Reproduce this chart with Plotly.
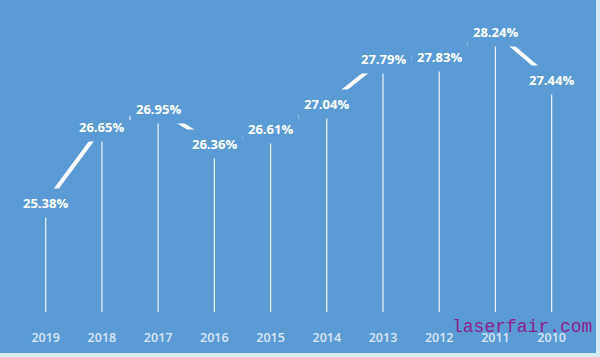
import plotly.graph_objects as go

years = ["2019", "2018", "2017", "2016", "2015", "2014", "2013", "2012", "2011", "2010"]
rates = [25.38, 26.65, 26.95, 26.36, 26.61, 27.04, 27.79, 27.83, 28.24, 27.44]
labels = [f"{v:.2f}%" for v in rates]
watermark = "laserfair.com"

BG = "#5B9BD5"
xs = list(range(len(years)))
y_top, y_bottom = 28.775, 23.557

fig = go.Figure()

# drop lines from each point to the axis
dx, dy = [], []
for i, v in zip(xs, rates):
    dx += [i, i, None]
    dy += [v, y_bottom, None]
fig.add_trace(go.Scatter(x=dx, y=dy, mode="lines",
                         line=dict(color="rgba(255,255,255,0.9)", width=1.2),
                         hoverinfo="skip", showlegend=False))

# main line
fig.add_trace(go.Scatter(x=xs, y=rates, mode="lines",
                         line=dict(color="white", width=4),
                         showlegend=False))

# data labels with background boxes that hide the line beneath them
for i, v, t in zip(xs, rates, labels):
    fig.add_annotation(x=i, y=v, text=t, showarrow=False,
                       font=dict(family="Open Sans", size=13, color="white", weight="bold"),
                       bgcolor=BG, borderpad=5, xanchor="center", yanchor="middle")

fig.add_annotation(xref="paper", yref="paper", x=594/600, y=-0.01, text=watermark,
                   showarrow=False, xanchor="right", yanchor="top",
                   font=dict(family="Liberation Mono", size=18, color="#8B1E8E"))

# light border strips at bottom and right edge
fig.add_shape(type="rect", xref="paper", yref="paper", x0=0, x1=1, y0=-0.1315, y1=-0.15,
              fillcolor="#D3EBF2", line=dict(width=0), layer="above")
fig.add_shape(type="rect", xref="paper", yref="paper", x0=596/600, x1=1, y0=-0.15, y1=1,
              fillcolor="#D3EBF2", line=dict(width=0), layer="above")

fig.update_layout(
    width=600, height=357,
    margin=dict(l=0, r=0, t=0, b=45),
    paper_bgcolor=BG, plot_bgcolor=BG,
    xaxis=dict(range=[-0.813, 9.86], tickmode="array", tickvals=xs, ticktext=years,
               showgrid=False, zeroline=False, showline=False,
               ticks="outside", ticklen=14, tickcolor="rgba(0,0,0,0)",
               tickfont=dict(family="Open Sans", size=12.5, color="#DCE8F4", weight=600)),
    yaxis=dict(range=[y_bottom, y_top], visible=False),
)

fig.write_html("out.html", config={"displayModeBar": False},
               post_script="document.body.style.margin='0';document.body.style.overflow='hidden';")
